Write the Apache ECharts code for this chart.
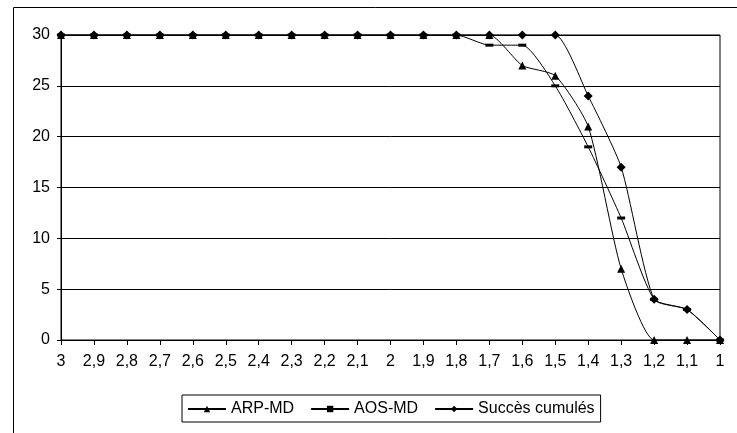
<!DOCTYPE html>
<html>
<head>
<meta charset="utf-8">
<script src="https://cdn.jsdelivr.net/npm/echarts@6/dist/echarts.min.js"></script>
<style>
html,body{margin:0;padding:0;background:#fff;}
#chart{width:737px;height:433px;}
</style>
</head>
<body>
<div id="chart"></div>
<script>
const categories = ['3','2,9','2,8','2,7','2,6','2,5','2,4','2,3','2,2','2,1','2','1,9','1,8','1,7','1,6','1,5','1,4','1,3','1,2','1,1','1'];
const arpMD = [30,30,30,30,30,30,30,30,30,30,30,30,30,30,27,26,21,7,0,0,0];
const aosMD = [30,30,30,30,30,30,30,30,30,30,30,30,30,29,29,25,19,12,4,3,0];
const succesCumules = [30,30,30,30,30,30,30,30,30,30,30,30,30,30,30,30,24,17,4,3,0];
const yTicks = [0,5,10,15,20,25,30];

const font = '"Liberation Sans", Arial, sans-serif';
const chart = echarts.init(document.getElementById('chart'), null, {renderer:'canvas'});
const lineStyle = {color:'#000', width:1};
chart.setOption({
  animation:false,
  backgroundColor:'#fff',
  graphic:[{type:'rect', shape:{x:13.5,y:7.5,width:760,height:500}, style:{fill:null, stroke:'#000', lineWidth:1}, silent:true}],
  grid:{left:61, right:17, top:35, bottom:93, show:true, borderColor:'#000', borderWidth:1},
  legend:{
    top:395, left:182,
    data:['ARP-MD','AOS-MD','Succès cumulés'],
    borderColor:'#000', borderWidth:1, borderRadius:0,
    padding:[6,6,5,5], itemGap:16, itemWidth:38, itemHeight:8,
    textStyle:{color:'#000', fontFamily:font, fontSize:16}
  },
  xAxis:{
    type:'category', data:categories, boundaryGap:false,
    axisLine:{lineStyle:{color:'#000'}},
    axisTick:{show:true, alignWithLabel:true, length:5, lineStyle:{color:'#000'}},
    axisLabel:{color:'#000', fontFamily:font, fontSize:16, margin:14, interval:0},
    splitLine:{show:false}
  },
  yAxis:{
    type:'value', min:0, max:30, interval:5,
    axisLine:{show:true, lineStyle:{color:'#000'}},
    axisTick:{show:true, length:4, lineStyle:{color:'#000'}},
    axisLabel:{color:'#000', fontFamily:font, fontSize:16, margin:11,
      formatter:v=>yTicks.includes(v)?String(v):''},
    splitLine:{show:true, lineStyle:{color:'#000', width:1}}
  },
  series:[
    {name:'ARP-MD', type:'line', data:arpMD, smooth:0.2, symbol:'triangle', symbolSize:8,
      itemStyle:{color:'#000'}, lineStyle:lineStyle},
    {name:'AOS-MD', type:'line', data:aosMD, smooth:0.2, symbol:'rect', symbolSize:[8,3],
      itemStyle:{color:'#000'}, lineStyle:lineStyle},
    {name:'Succès cumulés', type:'line', data:succesCumules, smooth:0.2, symbol:'diamond', symbolSize:9,
      itemStyle:{color:'#000'}, lineStyle:lineStyle}
  ]
});
</script>
</body>
</html>
